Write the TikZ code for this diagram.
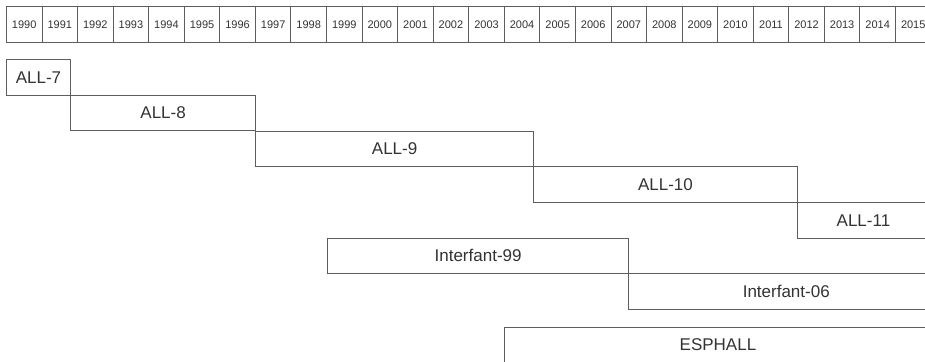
\documentclass[tikz,border=0pt]{standalone}
\usepackage{fontspec}
\setmainfont{Liberation Sans}
\definecolor{rule}{HTML}{5E5E5E}
\definecolor{ink}{HTML}{333333}
\tikzset{
  yearcell/.style={draw=rule, line width=0.9pt, rectangle, anchor=north west,
    minimum width=35.56pt, minimum height=36.3pt, inner sep=0pt,
    text=ink, font=\fontsize{11}{13}\selectfont},
  period/.style={draw=rule, line width=0.9pt, rectangle, anchor=north west,
    minimum height=35.67pt, inner sep=0pt,
    text=ink, font=\fontsize{17}{20}\selectfont}
}
\begin{document}
\begin{tikzpicture}[x=1pt, y=-1pt]
  \useasboundingbox (0,0) rectangle (925,361);
  \clip (0,0) rectangle (925,361);
  \fill[white] (0,0) rectangle (925,361);

  % year ruler
  \foreach \i in {0,...,25} {
    \pgfmathtruncatemacro{\yr}{1990+\i}
    \node[yearcell] (y\yr) at ({6+35.56*\i},6) {\yr};
  }

  % treatment protocol periods
  \node[period, minimum width=64pt]    (all7)  at (6,59)      {ALL-7};
  \node[period, minimum width=185.3pt] (all8)  at (70,94.7)   {ALL-8};
  \node[period, minimum width=277.7pt] (all9)  at (255.3,130.7) {ALL-9};
  \node[period, minimum width=264pt]   (all10) at (533,166.3) {ALL-10};
  \node[period, minimum width=132pt]   (all11) at (797,202)   {ALL-11};
  \node[period, minimum width=301.3pt] (inf99) at (327,237.6) {Interfant-99};
  \node[period, minimum width=315pt]   (inf06) at (628.3,273.3) {Interfant-06};
  \node[period, minimum width=427pt]   (esph)  at (504,326.7) {ESPHALL};
\end{tikzpicture}
\end{document}
